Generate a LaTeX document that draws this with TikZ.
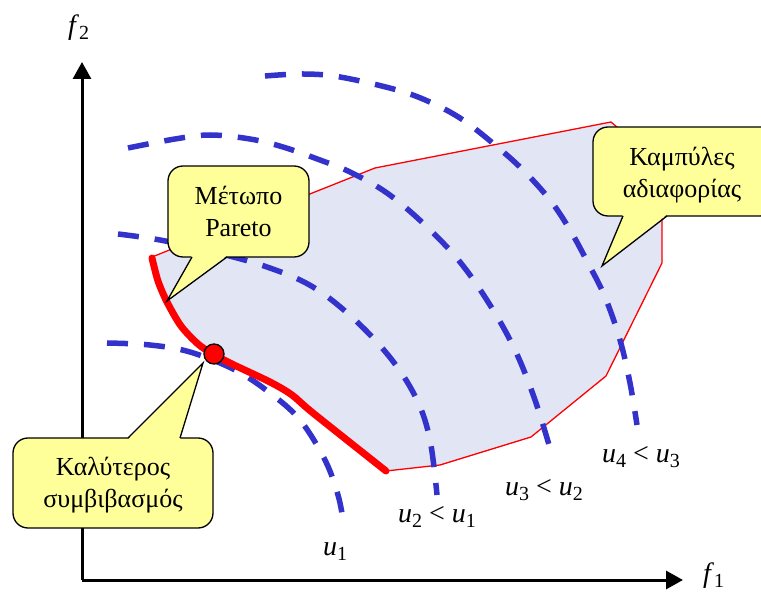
\documentclass[tikz,border=0pt]{standalone}
\usepackage{fontspec}
\setmainfont{Liberation Serif}
\usetikzlibrary{arrows.meta}
\definecolor{regionfill}{HTML}{E1E5F4}
\definecolor{indiff}{HTML}{3333CC}
\definecolor{calloutfill}{HTML}{FFFF99}
\definecolor{pred}{HTML}{FF0000}
\newcommand\symsub[2]{\textit{#1}\raisebox{-0.32ex}{\fontsize{20}{20}\selectfont #2}}
\newcommand\paretopts{(152,258) (158,281) (167,302) (181,326) (198,344) (213,354) (232,364) (270,382) (292,395) (313,413) (386,471)}
\tikzset{
  axis/.style={line width=3pt,-{Triangle[length=17pt,width=18pt]}},
  regionedge/.style={draw=pred,line width=1.3pt,line join=miter},
  indcurve/.style={draw=indiff,line width=5.5pt,dash pattern=on 21pt off 16pt},
  pareto/.style={draw=pred,line width=7pt,line cap=round,line join=round},
  boxpart/.style={fill=calloutfill,draw=black,line width=1.3pt,rounded corners=15pt},
  ptrfill/.style={fill=calloutfill},
  ptrline/.style={draw=black,line width=1.3pt,line join=miter},
  callouttext/.style={align=center,font=\fontsize{26}{32}\selectfont,inner sep=0pt},
  lbl/.style={font=\fontsize{28}{30}\selectfont,inner sep=0pt,anchor=base west}
}
\begin{document}
\begin{tikzpicture}[x=1pt,y=-1pt]
\useasboundingbox (0,0) rectangle (761,593);
% axes
\coordinate (O) at (82,580);
\coordinate (ytip) at (82,62);
\coordinate (xtip) at (683,580);
\draw[axis] (O) -- (ytip);
\draw[axis] (O) -- (xtip);
\node[lbl] (f2) at (68,35) {\symsub{f}{2}};
\node[lbl] (f1) at (703,583) {\symsub{f}{1}};
% feasible region
\fill[regionfill] plot[smooth,tension=0.5] coordinates {\paretopts} -- (440,465) -- (531,437) -- (606,376) -- (662,263) -- (662,165) -- (611,122) -- (375,168) -- cycle;
\path[regionedge] (152,257) -- (375,168) -- (611,122) -- (662,165) -- (662,263) -- (606,376) -- (531,437) -- (440,465) -- (386,471);
% indifference curves
\draw[indcurve] plot[smooth,tension=0.6] coordinates {(107,343) (150,345) (190,352) (235,370) (270,393) (300,420) (325,460) (338,495) (343,520)};
\draw[indcurve] plot[smooth,tension=0.6] coordinates {(118,234) (160,240) (210,251) (267,267) (313,287) (355,320) (392,360) (417,400) (430,440) (437,495)};
\draw[indcurve] plot[smooth,tension=0.6] coordinates {(128,148) (175,139) (210,135) (250,139) (283,147) (320,160) (350,172) (387,193) (425,225) (460,262) (490,305) (515,350) (535,400) (552,455)};
\draw[indcurve] plot[smooth,tension=0.6] coordinates {(265,76) (303,74) (340,77) (397,90) (432,103) (463,120) (495,145) (523,170) (550,200) (570,230) (588,263) (605,297) (620,340) (630,383) (637,425)};
% Pareto front
\draw[pareto] plot[smooth,tension=0.5] coordinates {\paretopts};
\node[circle,fill=pred,draw=black,line width=1.3pt,minimum size=20pt,inner sep=0pt] (best) at (214,354) {};
% callout: Pareto front
\coordinate (p1tip) at (167,301);
\path[boxpart] (168,166) rectangle (309,257);
\fill[ptrfill] (192,255.5) -- (p1tip) -- (227,255.5) -- cycle;
\draw[ptrline] (192,257) -- (p1tip) -- (227,257);
\node[callouttext] (t1) at (238.5,211) {Μέτωπο\\Pareto};
% callout: indifference curves
\coordinate (p2tip) at (602,266);
\path[boxpart] (593,127) rectangle (775,216);
\fill[ptrfill] (623,214.5) -- (p2tip) -- (667,214.5) -- cycle;
\draw[ptrline] (623,216) -- (p2tip) -- (667,216);
\node[callouttext] (t2) at (682,175) {Καμπύλες\\αδιαφορίας};
% callout: best compromise
\coordinate (p3tip) at (203,363);
\path[boxpart] (13,438) rectangle (213,528);
\fill[ptrfill] (128,439.5) -- (p3tip) -- (180,439.5) -- cycle;
\draw[ptrline] (128,438) -- (p3tip) -- (180,438);
\node[callouttext] (t3) at (113,485) {Καλύτερος\\συμβιβασμός};
% curve labels
\node[lbl] (l1) at (323,556) {\symsub{u}{1}};
\node[lbl] (l2) at (398,523) {\symsub{u}{2} < \symsub{u}{1}};
\node[lbl] (l3) at (505,496) {\symsub{u}{3} < \symsub{u}{2}};
\node[lbl] (l4) at (602,463) {\symsub{u}{4} < \symsub{u}{3}};
\end{tikzpicture}
\end{document}
